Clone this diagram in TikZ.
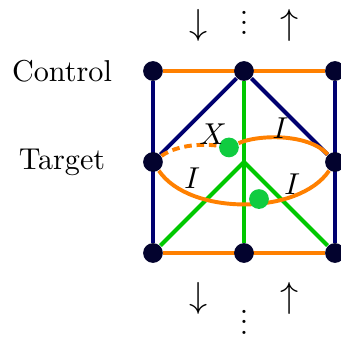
\documentclass[tikz,border=0pt]{standalone}
\usepackage{amsmath,amssymb}
\usepackage{xcolor}
\usepackage{tikz}
\usetikzlibrary{positioning,calc,backgrounds}
\definecolor{navy}{HTML}{000070}
\definecolor{inknavy}{HTML}{03032E}
\definecolor{tangerine}{HTML}{FF8000}
\definecolor{leaf}{HTML}{00C800}
\definecolor{mint}{HTML}{10CC40}
\newcommand{\tightvdots}{\vbox{\baselineskip=3.4pt\lineskiplimit=0pt
  \hbox{.}\hbox{.}\hbox{.}}}
\tikzset{
  qubit/.style={circle,fill=inknavy,inner sep=0pt,minimum size=0.23cm},
  gatedot/.style={circle,fill=mint,inner sep=0pt,minimum size=0.23cm},
  navyline/.style={line width=1.3pt,color=navy},
  orangeline/.style={line width=1.3pt,color=tangerine},
  greenline/.style={line width=1.3pt,color=leaf},
}

\begin{document}
\begin{tikzpicture}[x=1.06cm,y=1.06cm,
  rowlabel/.style={font=\normalsize},
  oplabel/.style={inner sep=1pt}]
  \useasboundingbox (-2.681,-1.945) rectangle (1.066,1.780);

  % lattice sites
  \node[qubit] (TL) at (-1,1)  {};
  \node[qubit] (TM) at (0,1)   {};
  \node[qubit] (TR) at (1,1)   {};
  \node[qubit] (ML) at (-1,0)  {};
  \node[qubit] (MR) at (1,0)   {};
  \node[qubit] (BL) at (-1,-1) {};
  \node[qubit] (BM) at (0,-1)  {};
  \node[qubit] (BR) at (1,-1)  {};
  \coordinate (C) at (0,0);

  % gate points
  \node[gatedot] (GX) at (-0.165,0.16)  {};
  \node[gatedot] (GI) at (0.165,-0.407) {};

  \node[rowlabel] (ctl) at (-2,1) {Control};
  \node[rowlabel] (tgt) at (-2,0) {Target};

  \node (dnT) at (-0.5,1.5)  {\large$\downarrow$};
  \node (upT) at (0.5,1.5)   {\large$\uparrow$};
  \node (dnB) at (-0.5,-1.5) {\large$\downarrow$};
  \node (upB) at (0.5,-1.5)  {\large$\uparrow$};
  \node[inner sep=0pt] (dotsT) at (0,1.53)  {\tightvdots};
  \node[inner sep=0pt] (dotsB) at (0,-1.76) {\tightvdots};

  \begin{scope}[on background layer]
    \draw[orangeline] (TL) -- (TR);
    \draw[orangeline] (BL) -- (BR);
    \draw[navyline] (TL) -- (BL);
    \draw[navyline] (TR) -- (BR);
    \draw[navyline] (ML) -- (TM) -- (MR);
    \draw[greenline] (TM) -- (BM);
    \draw[greenline] (BL) -- (C) -- (BR);
    \draw[orangeline,dash pattern=on 2.5pt off 1.6pt]
      (ML) .. controls (-0.72,0.2) and (-0.42,0.2) .. (GX);
    \draw[orangeline] (GX) .. controls (0.15,0.3) and (0.7,0.32) .. (MR);
    \draw[orangeline] (ML) .. controls (-0.6,-0.59) and (0.6,-0.59) .. (MR);
  \end{scope}

  \node[oplabel] (lx)  at (-0.34,0.31)  {$X$};
  \node[oplabel] (li1) at (0.40,0.37)   {$I$};
  \node[oplabel] (li2) at (-0.57,-0.18) {$I$};
  \node[oplabel] (li3) at (0.53,-0.24)  {$I$};
\end{tikzpicture}
\end{document}
